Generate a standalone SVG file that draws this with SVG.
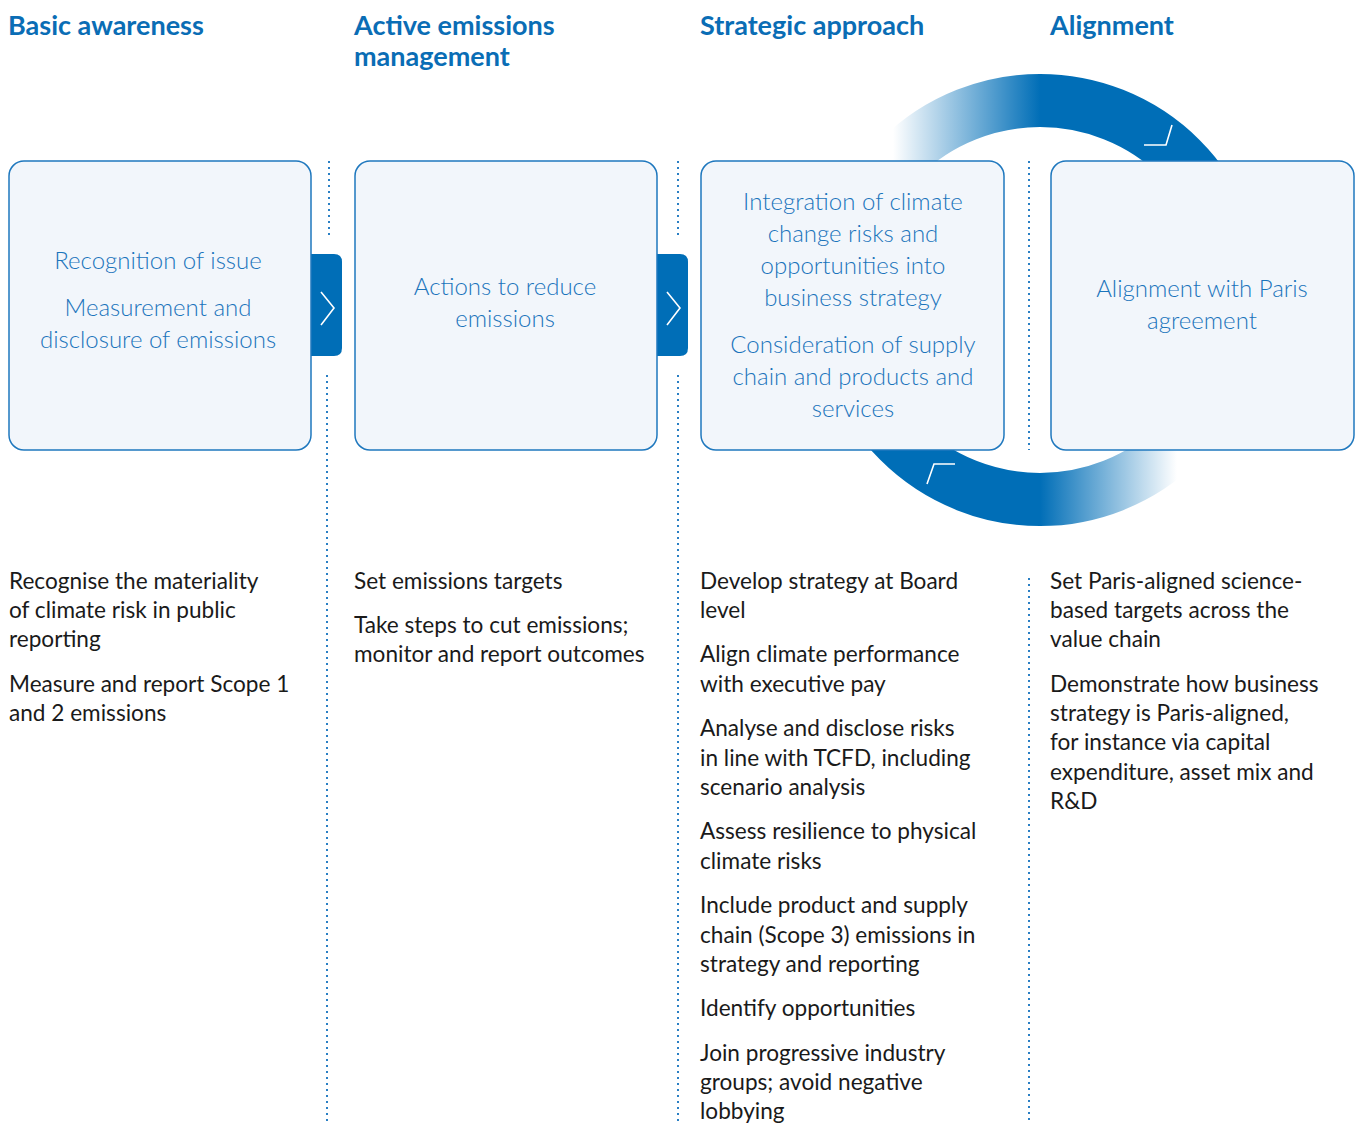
<svg xmlns="http://www.w3.org/2000/svg" width="1362" height="1124" viewBox="0 0 1362 1124">
<defs>
<style>
.title{font-family:Lato,"Liberation Sans",sans-serif;font-weight:700;font-size:27px;fill:#0a6db5}
.box{fill:#f2f6fb;stroke:#1f78be;stroke-width:1.5}
.bt{font-family:Lato,"Liberation Sans",sans-serif;font-weight:300;font-size:24px;fill:#1a74bb;text-anchor:middle}
.body{font-family:Lato,"Liberation Sans",sans-serif;font-weight:400;font-size:22.6px;fill:#1a1a1a}
.dot{stroke:#2a7fc4;stroke-width:2;stroke-dasharray:2 4;fill:none}
.tab{fill:#006eb7}
.chev{fill:none;stroke:#fff;stroke-width:1.6}
</style>
<linearGradient id="gTop" gradientUnits="userSpaceOnUse" x1="893" y1="0" x2="1040" y2="0">
<stop offset="0" stop-color="#006eb7" stop-opacity="0"/>
<stop offset="1" stop-color="#006eb7" stop-opacity="1"/>
</linearGradient>
<linearGradient id="gBot" gradientUnits="userSpaceOnUse" x1="1040" y1="0" x2="1177" y2="0">
<stop offset="0" stop-color="#006eb7" stop-opacity="1"/>
<stop offset="1" stop-color="#006eb7" stop-opacity="0"/>
</linearGradient>
</defs>
<rect width="1362" height="1124" fill="#fff"/>

<g id="cycle">
<path d="M840.5,300 A199.5,199.5 0 0 1 1239.5,300" fill="none" stroke="url(#gTop)" stroke-width="53"/>
<path d="M840.5,300 A199.5,199.5 0 0 0 1239.5,300" fill="none" stroke="url(#gBot)" stroke-width="53"/>
<polyline class="chev" points="1144,145 1166,145 1172,125"/>
<polyline class="chev" points="927,484 934,464 955,464"/>
</g>

<g id="connectors">
<line class="dot" x1="329" y1="161" x2="329" y2="238"/>
<line class="dot" x1="327" y1="375" x2="327" y2="1122"/>
<line class="dot" x1="678" y1="161" x2="678" y2="238"/>
<line class="dot" x1="678" y1="375" x2="678" y2="1122"/>
<line class="dot" x1="1029" y1="161" x2="1029" y2="450"/>
<line class="dot" x1="1029" y1="578" x2="1029" y2="1122"/>
<g id="arrow1">
<path class="tab" d="M311,254 H334 Q342,254 342,262 V348 Q342,356 334,356 H311 Z"/>
<polyline class="chev" points="321,292 334,308 321,325"/>
</g>
<g id="arrow2">
<path class="tab" d="M657,254 H680 Q688,254 688,262 V348 Q688,356 680,356 H657 Z"/>
<polyline class="chev" points="667,292 680,308 667,325"/>
</g>
</g>

<g id="node1">
<text class="title" x="8" y="35">Basic awareness</text>
<rect class="box" x="9" y="161" width="302" height="289" rx="15"/>
<text class="bt" x="158" y="269">Recognition of issue</text>
<text class="bt" x="158" y="316">Measurement and</text>
<text class="bt" x="158" y="348">disclosure of emissions</text>
<text class="body" x="9" y="589">Recognise the materiality</text>
<text class="body" x="9" y="618">of climate risk in public</text>
<text class="body" x="9" y="647">reporting</text>
<text class="body" x="9" y="692">Measure and report Scope 1</text>
<text class="body" x="9" y="721">and 2 emissions</text>
</g>

<g id="node2">
<text class="title" x="354" y="35">Active emissions</text>
<text class="title" x="354" y="66">management</text>
<rect class="box" x="355" y="161" width="302" height="289" rx="15"/>
<text class="bt" x="505" y="295">Actions to reduce</text>
<text class="bt" x="505" y="327">emissions</text>
<text class="body" x="354" y="589">Set emissions targets</text>
<text class="body" x="354" y="633">Take steps to cut emissions;</text>
<text class="body" x="354" y="662">monitor and report outcomes</text>
</g>

<g id="node3">
<text class="title" x="700" y="35">Strategic approach</text>
<rect class="box" x="701" y="161" width="303" height="289" rx="15"/>
<text class="bt" x="853" y="210">Integration of climate</text>
<text class="bt" x="853" y="242">change risks and</text>
<text class="bt" x="853" y="274">opportunities into</text>
<text class="bt" x="853" y="306">business strategy</text>
<text class="bt" x="853" y="353">Consideration of supply</text>
<text class="bt" x="853" y="385">chain and products and</text>
<text class="bt" x="853" y="417">services</text>
<text class="body" x="700" y="589">Develop strategy at Board</text>
<text class="body" x="700" y="618">level</text>
<text class="body" x="700" y="662">Align climate performance</text>
<text class="body" x="700" y="692">with executive pay</text>
<text class="body" x="700" y="736">Analyse and disclose risks</text>
<text class="body" x="700" y="766">in line with TCFD, including</text>
<text class="body" x="700" y="795">scenario analysis</text>
<text class="body" x="700" y="839">Assess resilience to physical</text>
<text class="body" x="700" y="869">climate risks</text>
<text class="body" x="700" y="913">Include product and supply</text>
<text class="body" x="700" y="943">chain (Scope 3) emissions in</text>
<text class="body" x="700" y="972">strategy and reporting</text>
<text class="body" x="700" y="1016">Identify opportunities</text>
<text class="body" x="700" y="1061">Join progressive industry</text>
<text class="body" x="700" y="1090">groups; avoid negative</text>
<text class="body" x="700" y="1119">lobbying</text>
</g>

<g id="node4">
<text class="title" x="1050" y="35">Alignment</text>
<rect class="box" x="1051" y="161" width="303" height="289" rx="15"/>
<text class="bt" x="1202" y="297">Alignment with Paris</text>
<text class="bt" x="1202" y="329">agreement</text>
<text class="body" x="1050" y="589">Set Paris-aligned science-</text>
<text class="body" x="1050" y="618">based targets across the</text>
<text class="body" x="1050" y="647">value chain</text>
<text class="body" x="1050" y="692">Demonstrate how business</text>
<text class="body" x="1050" y="721">strategy is Paris-aligned,</text>
<text class="body" x="1050" y="750">for instance via capital</text>
<text class="body" x="1050" y="780">expenditure, asset mix and</text>
<text class="body" x="1050" y="809">R&amp;D</text>
</g>
</svg>
